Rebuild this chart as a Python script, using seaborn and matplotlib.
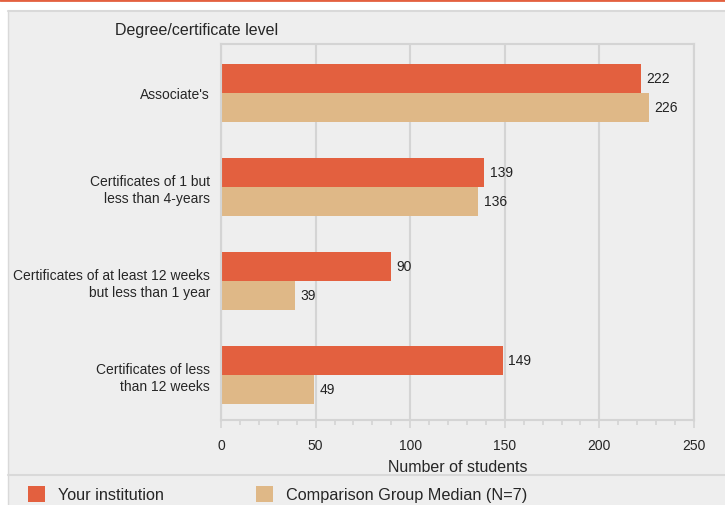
import pandas as pd
import numpy as np
import matplotlib.pyplot as plt
import seaborn as sns
from matplotlib.patches import Rectangle
from matplotlib.lines import Line2D
from matplotlib.ticker import MultipleLocator

sns.set_style('white')
plt.rcParams['font.family'] = ['Liberation Sans', 'DejaVu Sans']

# Data
categories = ["Associate's",
              "Certificates of 1 but\nless than 4-years",
              "Certificates of at least 12 weeks\nbut less than 1 year",
              "Certificates of less\nthan 12 weeks"]
your_institution = [222, 139, 90, 149]
comparison_median = [226, 136, 39, 49]
series_names = ['Your institution', 'Comparison Group Median (N=7)']
colors = ['#E3603F', '#DFB887']

df = pd.DataFrame({
    'category': categories * 2,
    'value': your_institution + comparison_median,
    'series': [series_names[0]] * 4 + [series_names[1]] * 4,
})

W, H = 725, 506
fig = plt.figure(figsize=(W / 100, H / 100), dpi=100, facecolor='white')

# background panel and decorations
fig.patches.append(Rectangle((8 / W, 0), 1, 1 - 12 / H, transform=fig.transFigure,
                             facecolor='#eeeeee', edgecolor='none', zorder=-10))
fig.lines.append(Line2D([8 / W, 1], [1 - 12 / H, 1 - 12 / H], transform=fig.transFigure,
                        color='#d9d9d9', lw=1.5))
fig.lines.append(Line2D([8 / W, 8 / W], [0, 1 - 12 / H], transform=fig.transFigure,
                        color='#d9d9d9', lw=1))
fig.lines.append(Line2D([0, 1], [1 - 1 / H, 1 - 1 / H], transform=fig.transFigure,
                        color='#E3603F', lw=2))
fig.lines.append(Line2D([8 / W, 1], [1 - 476 / H, 1 - 476 / H], transform=fig.transFigure,
                        color='#d9d9d9', lw=1.5))

ax = fig.add_axes([221 / W, 1 - 421 / H, (694 - 221) / W, (421 - 45) / H])
ax.set_facecolor('#eeeeee')

sns.barplot(data=df, y='category', x='value', hue='series', orient='h',
            palette=colors, width=0.62, ax=ax, legend=False, saturation=1,
            linewidth=0)

for container in ax.containers:
    ax.bar_label(container, padding=4, fontsize=10, color='#222222')

ax.set_xlim(0, 250)
ax.set_ylim(3.48, -0.52)
ax.xaxis.set_major_locator(MultipleLocator(50))
ax.xaxis.set_minor_locator(MultipleLocator(10))
ax.grid(axis='x', which='major', color='#d4d4d4', lw=1.5, zorder=0)
ax.set_axisbelow(True)
for side in ['left', 'top', 'right', 'bottom']:
    ax.spines[side].set_color('#d4d4d4')
    ax.spines[side].set_linewidth(1.5)
ax.tick_params(axis='x', which='major', length=6, width=1.2, color='#d4d4d4',
               labelsize=10, pad=7, bottom=True)
ax.tick_params(axis='x', which='minor', length=3.5, width=1.2, color='#d4d4d4', bottom=True)
ax.tick_params(axis='y', length=0, labelsize=10, pad=8)
ax.set_ylabel('')
ax.set_xlabel('Number of students', fontsize=11.5, labelpad=5)

fig.text(115 / W, 1 - 31 / H, 'Degree/certificate level', fontsize=11.5,
         va='center', ha='left')

# legend
for x0, name, c in [(28, series_names[0], colors[0]), (256, series_names[1], colors[1])]:
    fig.patches.append(Rectangle((x0 / W, 1 - 503 / H), 17 / W, 16 / H,
                                 transform=fig.transFigure, facecolor=c, edgecolor='none'))
    fig.text((x0 + 30) / W, 1 - 496 / H, name, fontsize=11.7, va='center', ha='left')

fig.savefig('out.png', dpi=100, facecolor=fig.get_facecolor())
